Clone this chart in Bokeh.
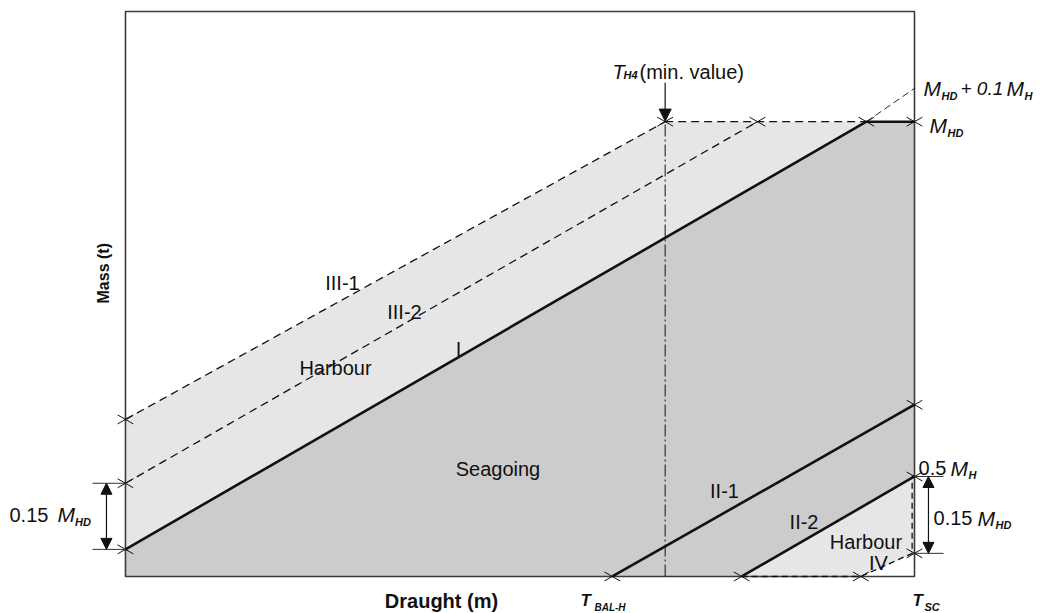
import numpy as np
from bokeh.plotting import figure
from bokeh.models import Range1d, Arrow, NormalHead
from bokeh.core.properties import value
from bokeh.embed import file_html
from bokeh.resources import INLINE

# ---------------- data (schematic units: chart box spans 0..10 on both axes) -------------
frame_draught = [0.0, 10.0]
frame_mass = [0.0, 10.0]

line_I_draught = [0.0, 9.39, 10.0]          # seagoing limit I, then M_HD plateau
line_I_mass = [0.48, 8.05, 8.05]
line_III1_draught = [0.0, 6.84]             # harbour limit III-1
line_III1_mass = [2.78, 8.05]
line_III2_draught = [0.0, 8.01]             # harbour limit III-2
line_III2_mass = [1.65, 8.05]
top_limit_draught = [6.84, 9.39]            # M_HD harbour plateau
top_limit_mass = [8.05, 8.05]
ext_draught = [9.39, 10.0]                  # M_HD + 0.1 M_H extension
ext_mass = [8.05, 8.64]
line_II1_draught = [6.17, 10.0]             # II-1 from T_BAL-H
line_II1_mass = [0.0, 3.04]
line_II2_draught = [7.81, 10.0]             # II-2
line_II2_mass = [0.0, 1.77]
harbour_iv_draught = [7.81, 9.32, 9.97, 9.97]
harbour_iv_mass = [0.0, 0.0, 0.41, 1.77]
t_h4_draught = 6.84                         # T_H4 (min. value)
t_h4_mass = 8.05

cross_draught = [0.0, 0.0, 0.0, 6.84, 8.01, 9.39, 10.0, 6.17, 7.81, 9.32, 10.0, 10.0, 10.0]
cross_mass = [2.78, 1.65, 0.48, 8.05, 8.05, 8.05, 8.05, 0.0, 0.0, 0.0, 0.41, 1.77, 3.04]

FONT = "Liberation Sans"
INK = "#111111"
DARK = "#cccccc"
LIGHT = "#e6e6e6"

p = figure(width=1040, height=613,
           x_range=Range1d(-1.584, 11.597), y_range=Range1d(-0.655, 10.195),
           output_backend="svg", toolbar_location=None,
           x_axis_type=None, y_axis_type=None, min_border=0,
           outline_line_color=None, background_fill_color="white",
           border_fill_color="white")
p.min_border_left = p.min_border_right = p.min_border_top = p.min_border_bottom = 0

# ---------------- fills ----------------
sea_x = [frame_draught[0]] + line_I_draught + [frame_draught[1]]
sea_y = [frame_mass[0]] + line_I_mass + [frame_mass[0]]
p.patch(sea_x, sea_y, fill_color=DARK, line_color=None)

harb_x = [line_I_draught[0], line_III1_draught[0], line_III1_draught[1], top_limit_draught[1]]
harb_y = [line_I_mass[0], line_III1_mass[0], line_III1_mass[1], top_limit_mass[1]]
p.patch(harb_x, harb_y, fill_color=LIGHT, line_color=None)

iv_x = harbour_iv_draught[:2] + [frame_draught[1], frame_draught[1]]
iv_y = harbour_iv_mass
p.patch(iv_x, iv_y, fill_color=LIGHT, line_color=None)
corner_x = [harbour_iv_draught[1], frame_draught[1], frame_draught[1]]
corner_y = [frame_mass[0], frame_mass[0], harbour_iv_mass[2]]
p.patch(corner_x, corner_y, fill_color="white", line_color=None)

# ---------------- chart box ----------------
p.quad(left=frame_draught[0], right=frame_draught[1], bottom=frame_mass[0], top=frame_mass[1],
       fill_color=None, line_color="#3a3a3a", line_width=1.6)

# ---------------- limit lines ----------------
p.line(line_I_draught, line_I_mass, line_color=INK, line_width=2.6)
p.line(line_II1_draught, line_II1_mass, line_color=INK, line_width=2.6)
p.line(line_II2_draught, line_II2_mass, line_color=INK, line_width=2.6)
p.line(line_III1_draught, line_III1_mass, line_color=INK, line_width=1.3, line_dash="8 5")
p.line(line_III2_draught, line_III2_mass, line_color=INK, line_width=1.3, line_dash="8 5")
p.line(top_limit_draught, top_limit_mass, line_color=INK, line_width=1.3, line_dash="8 5")
p.line(ext_draught, ext_mass, line_color=INK, line_width=0.9, line_dash="7 4")
p.line(harbour_iv_draught, harbour_iv_mass, line_color=INK, line_width=1.3, line_dash="6 4")
p.line([t_h4_draught, t_h4_draught], [frame_mass[0], t_h4_mass], line_color=INK,
       line_width=1.0, line_dash="12 3 2 3")

# ---------------- crosses ----------------
cx = np.array(cross_draught)
cy = np.array(cross_mass)
hx, hy = 0.10, 0.08
p.segment(cx - hx, cy - hy, cx + hx, cy + hy, line_color=INK, line_width=1.0)
p.segment(cx - hx, cy + hy, cx + hx, cy - hy, line_color=INK, line_width=1.0)

# ---------------- dimension arrows ----------------
p.add_layout(Arrow(end=NormalHead(size=12, fill_color=INK, line_color=INK),
                   x_start=t_h4_draught, y_start=8.74, x_end=t_h4_draught, y_end=t_h4_mass + 0.01,
                   line_color=INK, line_width=1.2))

lx = -0.241
p.segment([-0.418, -0.418], [line_I_mass[0], line_III2_mass[0]], [0.0, 0.0],
          [line_I_mass[0], line_III2_mass[0]], line_color="#333333", line_width=1.0)
p.add_layout(Arrow(start=NormalHead(size=11, fill_color=INK, line_color=INK),
                   end=NormalHead(size=11, fill_color=INK, line_color=INK),
                   x_start=lx, y_start=line_I_mass[0], x_end=lx, y_end=line_III2_mass[0],
                   line_color=INK, line_width=1.2))

rx = 10.177
p.segment([10.0, 10.0], [harbour_iv_mass[2], line_II2_mass[1]], [10.368, 10.368],
          [harbour_iv_mass[2], line_II2_mass[1]], line_color="#333333", line_width=1.0)
p.add_layout(Arrow(start=NormalHead(size=11, fill_color=INK, line_color=INK),
                   end=NormalHead(size=11, fill_color=INK, line_color=INK),
                   x_start=rx, y_start=harbour_iv_mass[2], x_end=rx, y_end=line_II2_mass[1],
                   line_color=INK, line_width=1.2))


# ---------------- texts ----------------
def label(x, y, s, size=20, style="normal", align="left", baseline="alphabetic", angle=0.0):
    p.text(x=[x], y=[y], text=[s], text_font=value(FONT), text_font_size=f"{size}px",
           text_font_style=style, text_align=align, text_baseline=baseline,
           angle=angle, text_color=INK)


label(2.750, 5.186, "III-1", align="center")
label(3.536, 4.673, "III-2", align="center")
label(2.662, 3.699, "Harbour", align="center")
label(4.221, 4.035, "I", align="center")
label(4.721, 1.894, "Seagoing", align="center")
label(7.592, 1.522, "II-1", align="center")
label(8.600, 0.956, "II-2", align="center")
label(9.385, 0.602, "Harbour", align="center")
label(9.544, 0.230, "IV", align="center")

# left 0.15 M_HD
label(-1.470, 1.097, "0.15")
label(-0.862, 1.097, "M", size=21, style="italic")
label(-0.640, 0.956, "HD", size=11, style="bold italic")
# right 0.15 M_HD
label(10.241, 1.027, "0.15")
label(10.798, 1.027, "M", size=21, style="italic")
label(11.027, 0.903, "HD", size=11, style="bold italic")
# 0.5 M_H
label(10.051, 1.912, "0.5")
label(10.456, 1.912, "M", size=21, style="italic")
label(10.685, 1.788, "H", size=11, style="bold italic")
# M_HD + 0.1 M_H
label(10.114, 8.637, "M", size=21, style="italic")
label(10.342, 8.513, "HD", size=11, style="bold italic")
label(10.583, 8.637, "+ 0.1", size=19, style="italic")
label(11.166, 8.637, "M", size=21, style="italic")
label(11.394, 8.513, "H", size=11, style="bold italic")
# M_HD
label(10.190, 7.982, "M", size=21, style="italic")
label(10.418, 7.841, "HD", size=11, style="bold italic")
# T_H4 (min. value)
label(6.172, 8.938, "T", style="italic")
label(6.312, 8.885, "H4", size=11, style="bold italic")
label(6.515, 8.938, "(min. value)")
# T_BAL-H and T_SC
label(5.767, -0.425, "T", size=17, style="bold italic")
label(5.944, -0.540, "BAL-H", size=10, style="bold italic")
label(9.975, -0.425, "T", size=17, style="bold italic")
label(10.127, -0.540, "SC", size=11, style="bold italic")
# axis titles
label(4.005, -0.425, "Draught (m)", size=20, style="bold", align="center")
label(-0.279, 4.832, "Mass (t)", size=16, style="bold", align="left", baseline="middle",
      angle=np.pi / 2)

open("out.html", "w").write(file_html(p, INLINE))
